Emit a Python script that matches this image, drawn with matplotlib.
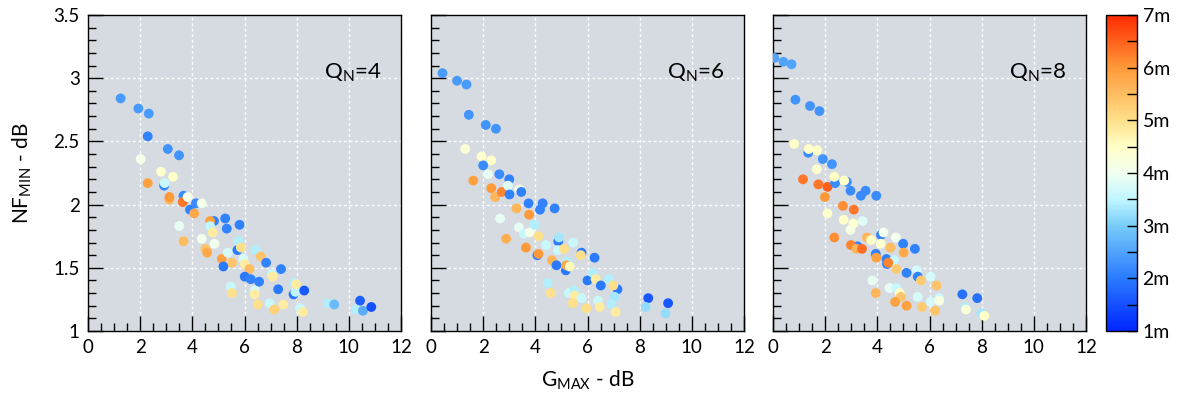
import numpy as np
import matplotlib
matplotlib.use("Agg")
import matplotlib.pyplot as plt
from matplotlib.colors import LinearSegmentedColormap
from matplotlib.ticker import MultipleLocator, FuncFormatter

plt.rcParams['font.family'] = ['Lato', 'DejaVu Sans']

# Q_N = 4
g4 = [1.25, 1.93, 2.33, 2.29, 3.06, 3.49, 2.02, 2.80, 3.26, 2.29, 2.92, 2.94, 3.12, 3.12,
      3.66, 3.63, 3.82, 3.91, 4.14, 4.36, 4.07, 3.50, 3.66, 4.83, 4.68, 4.68, 4.78, 5.26,
      5.32, 5.81, 4.36, 4.85, 4.50, 4.57, 5.13, 5.52, 5.19, 5.36, 5.73, 5.77, 5.86, 5.96,
      6.01, 6.19, 6.43, 6.62, 6.83, 6.01, 6.24, 6.56, 7.40, 7.05, 7.08, 7.29, 5.47, 5.52,
      6.39, 6.39, 6.51, 6.96, 7.14, 7.49, 7.88, 7.95, 8.29, 7.90, 7.98, 8.13, 8.24, 9.19,
      9.44, 10.43, 10.27, 10.54, 10.86]
nf4 = [2.84, 2.76, 2.72, 2.54, 2.44, 2.39, 2.36, 2.26, 2.22, 2.17, 2.15, 2.17, 2.04, 2.06,
       2.07, 2.02, 2.06, 1.96, 2.01, 2.01, 1.93, 1.83, 1.71, 1.87, 1.87, 1.83, 1.78, 1.89,
       1.81, 1.84, 1.73, 1.69, 1.65, 1.62, 1.57, 1.54, 1.51, 1.62, 1.64, 1.71, 1.66, 1.57,
       1.53, 1.49, 1.64, 1.59, 1.54, 1.43, 1.41, 1.39, 1.49, 1.45, 1.43, 1.33, 1.35, 1.30,
       1.32, 1.29, 1.21, 1.22, 1.17, 1.21, 1.29, 1.31, 1.32, 1.38, 1.37, 1.18, 1.15, 1.22,
       1.21, 1.24, 1.17, 1.16, 1.19]
m4 = [2.4, 2.4, 2.4, 2.1, 2.3, 2.3, 4.1, 4.4, 4.5, 5.9, 2.1, 3.6, 5.6, 6.0,
      2.2, 6.3, 4.1, 2.1, 2.2, 4.1, 5.8, 3.9, 5.5, 2.1, 5.9, 3.5, 4.8, 2.1,
      2.1, 2.1, 4.0, 4.0, 5.4, 5.8, 5.9, 5.4, 2.0, 3.7, 2.0, 3.4, 5.0, 3.7,
      4.8, 5.5, 3.4, 5.4, 2.1, 2.0, 2.1, 2.1, 2.1, 3.6, 4.8, 2.0, 3.6, 5.0,
      3.7, 4.8, 5.0, 3.6, 5.2, 4.8, 1.9, 3.5, 1.6, 3.4, 4.8, 3.6, 4.8, 3.4,
      2.8, 1.7, 3.4, 2.6, 1.5]

# Q_N = 6
g6 = [0.44, 1.00, 1.36, 1.45, 2.10, 2.49, 1.31, 1.94, 2.31, 2.00, 2.19, 2.62, 1.62, 2.31,
      2.46, 2.71, 3.00, 2.95, 3.01, 3.38, 3.46, 3.74, 4.18, 4.28, 4.74, 3.28, 3.76, 2.65,
      3.37, 3.56, 3.79, 3.97, 4.12, 2.88, 3.64, 4.08, 4.12, 4.41, 4.88, 4.91, 4.87, 5.10,
      4.63, 4.81, 5.17, 5.23, 5.19, 5.32, 5.45, 5.77, 5.74, 6.27, 4.47, 4.59, 5.29, 5.49,
      5.51, 5.77, 5.44, 5.96, 6.00, 6.21, 6.31, 6.51, 6.40, 6.47, 6.82, 7.15, 6.99, 7.04,
      6.92, 7.08, 8.33, 8.23, 9.09, 8.99]
nf6 = [3.04, 2.98, 2.95, 2.71, 2.63, 2.60, 2.44, 2.38, 2.35, 2.31, 2.24, 2.24, 2.19, 2.13,
       2.06, 2.10, 2.20, 2.15, 2.08, 2.12, 2.10, 2.01, 1.96, 2.01, 1.97, 1.97, 1.92, 1.89,
       1.82, 1.77, 1.78, 1.84, 1.75, 1.73, 1.66, 1.60, 1.61, 1.68, 1.71, 1.74, 1.64, 1.65,
       1.56, 1.52, 1.48, 1.55, 1.52, 1.51, 1.70, 1.62, 1.60, 1.58, 1.38, 1.30, 1.30, 1.32,
       1.28, 1.26, 1.22, 1.18, 1.40, 1.46, 1.41, 1.36, 1.24, 1.19, 1.41, 1.33, 1.36, 1.27,
       1.21, 1.15, 1.26, 1.19, 1.22, 1.14]
m6 = [2.4, 2.4, 2.4, 2.3, 2.3, 2.3, 4.3, 4.4, 4.5, 2.2, 3.9, 2.2, 5.9, 6.0,
      5.6, 6.2, 2.1, 3.8, 2.1, 4.1, 2.1, 2.1, 2.1, 2.1, 2.1, 5.6, 6.0, 3.9,
      3.9, 3.6, 4.1, 3.4, 5.0, 5.7, 6.0, 2.0, 6.0, 3.6, 2.0, 3.3, 3.6, 5.0,
      5.6, 2.0, 2.0, 3.4, 5.8, 4.6, 3.6, 2.0, 5.0, 2.0, 3.4, 5.0, 3.6, 3.4,
      4.8, 3.6, 5.0, 5.0, 2.0, 3.4, 4.8, 2.0, 3.6, 4.8, 3.4, 2.0, 5.0, 3.3,
      3.4, 4.8, 1.6, 3.2, 1.6, 3.2]

# Q_N = 8
g8 = [0.05, 0.40, 0.71, 0.86, 1.42, 1.78, 0.81, 1.35, 1.37, 1.69, 1.91, 2.26, 1.68, 1.15,
      1.74, 2.09, 1.99, 2.38, 2.35, 2.83, 2.73, 2.97, 3.37, 3.55, 3.96, 2.09, 2.68, 3.10,
      2.71, 3.08, 3.44, 2.97, 2.35, 3.24, 2.99, 3.19, 3.41, 3.60, 3.76, 4.14, 4.24, 4.13,
      4.50, 4.71, 4.99, 5.44, 5.01, 3.94, 3.96, 4.35, 4.64, 4.37, 4.42, 4.73, 5.12, 5.51,
      5.55, 5.67, 6.04, 6.27, 3.81, 3.94, 4.47, 4.73, 4.86, 4.90, 4.68, 5.12, 5.55, 5.71,
      6.04, 6.37, 6.37, 6.21, 7.26, 7.83, 7.38, 7.40, 7.99, 8.10]
nf8 = [3.16, 3.13, 3.11, 2.83, 2.78, 2.74, 2.48, 2.41, 2.44, 2.43, 2.36, 2.32, 2.28, 2.20,
       2.16, 2.14, 2.06, 2.17, 2.22, 2.18, 2.19, 2.11, 2.07, 2.11, 2.07, 1.93, 1.99, 1.96,
       1.88, 1.85, 1.87, 1.80, 1.74, 1.67, 1.68, 1.65, 1.65, 1.74, 1.72, 1.76, 1.78, 1.69,
       1.66, 1.74, 1.69, 1.65, 1.62, 1.61, 1.58, 1.57, 1.56, 1.53, 1.54, 1.49, 1.46, 1.48,
       1.43, 1.40, 1.43, 1.36, 1.40, 1.30, 1.34, 1.34, 1.30, 1.27, 1.23, 1.20, 1.27, 1.19,
       1.23, 1.26, 1.24, 1.16, 1.29, 1.26, 1.19, 1.17, 1.14, 1.12]
m8 = [2.5, 2.5, 2.5, 2.3, 2.3, 2.3, 4.5, 2.2, 4.5, 4.5, 2.3, 2.3, 4.4, 6.3,
      6.3, 6.5, 6.0, 2.2, 4.5, 2.2, 4.5, 2.2, 2.2, 2.2, 2.2, 4.4, 6.1, 6.3,
      4.5, 4.4, 3.8, 4.2, 6.1, 2.1, 6.2, 5.6, 6.4, 5.6, 4.5, 2.1, 4.0, 4.4,
      5.5, 4.0, 2.1, 2.1, 5.8, 2.1, 5.9, 2.1, 3.6, 2.1, 6.2, 5.3, 2.1, 3.7,
      2.1, 5.3, 3.7, 5.4, 3.9, 5.6, 3.9, 3.6, 4.5, 5.4, 5.9, 5.9, 3.7, 5.3,
      3.7, 3.6, 4.2, 5.4, 1.9, 1.9, 3.4, 4.3, 3.3, 4.5]

panels = [(g4, nf4, m4, "4"), (g6, nf6, m6, "6"), (g8, nf8, m8, "8")]

cmap = LinearSegmentedColormap.from_list("rc", [
    (0.0, "#0026ff"), (1/6, "#2a7bff"), (2/6, "#78ccf8"), (2.5/6, "#c0f6ff"),
    (3/6, "#f2fff0"), (3.5/6, "#ffffc8"), (4/6, "#ffe08a"), (5/6, "#ff9a3a"),
    (1.0, "#ff2a00")])

fig = plt.figure(figsize=(11.88, 4.03), dpi=100)
lefts = [88, 431, 773]
bottom = 1 - 331 / 403
height = (331 - 15) / 403
width = 313 / 1188
bg = "#d5dbe1"

for i, (g, nf, m, q) in enumerate(panels):
    ax = fig.add_axes([lefts[i] / 1188, bottom, width, height])
    ax.set_facecolor(bg)
    ax.set_xlim(0, 12)
    ax.set_ylim(1, 3.5)
    ax.xaxis.set_major_locator(MultipleLocator(2))
    ax.xaxis.set_minor_locator(MultipleLocator(0.5))
    ax.yaxis.set_major_locator(MultipleLocator(0.5))
    ax.yaxis.set_minor_locator(MultipleLocator(0.1))
    ax.grid(True, which='major', color='white', linestyle=(0, (2, 2)), linewidth=1)
    ax.set_axisbelow(True)
    ax.tick_params(which='both', direction='in', top=False, right=False, labelsize=13.5, pad=6)
    ax.tick_params(which='major', length=11, width=1)
    ax.tick_params(which='minor', length=5.5, width=1)
    ax.yaxis.set_major_formatter(FuncFormatter(lambda v, p: "%g" % v))
    if i > 0:
        ax.set_yticklabels([])
    for sp in ax.spines.values():
        sp.set_linewidth(1)
    ax.scatter(g, nf, c=m, cmap=cmap, vmin=1, vmax=7, s=50, linewidths=0, zorder=3)
    ax.text(11.25, 3.04, r"Q$_\mathregular{N}$=" + q, ha='right', va='center', fontsize=16)
    if i == 0:
        ax.set_ylabel(r"NF$_\mathregular{MIN}$ - dB", fontsize=15, labelpad=14)
    if i == 1:
        ax.set_xlabel(r"G$_\mathregular{MAX}$ - dB", fontsize=15, labelpad=9)

cax = fig.add_axes([1106 / 1188, bottom, 31 / 1188, height])
sm = plt.cm.ScalarMappable(cmap=cmap, norm=plt.Normalize(1, 7))
cb = fig.colorbar(sm, cax=cax)
cb.set_ticks([1, 2, 3, 4, 5, 6, 7])
cb.set_ticklabels(["%dm" % v for v in range(1, 8)])
cax.yaxis.set_minor_locator(MultipleLocator(0.5))
cax.tick_params(which='both', direction='in', right=True, left=False, labelsize=14, pad=4)
cax.tick_params(which='major', length=7, width=1)
cax.tick_params(which='minor', length=7, width=1)
cb.outline.set_linewidth(1)

fig.savefig("out.png", dpi=100)
